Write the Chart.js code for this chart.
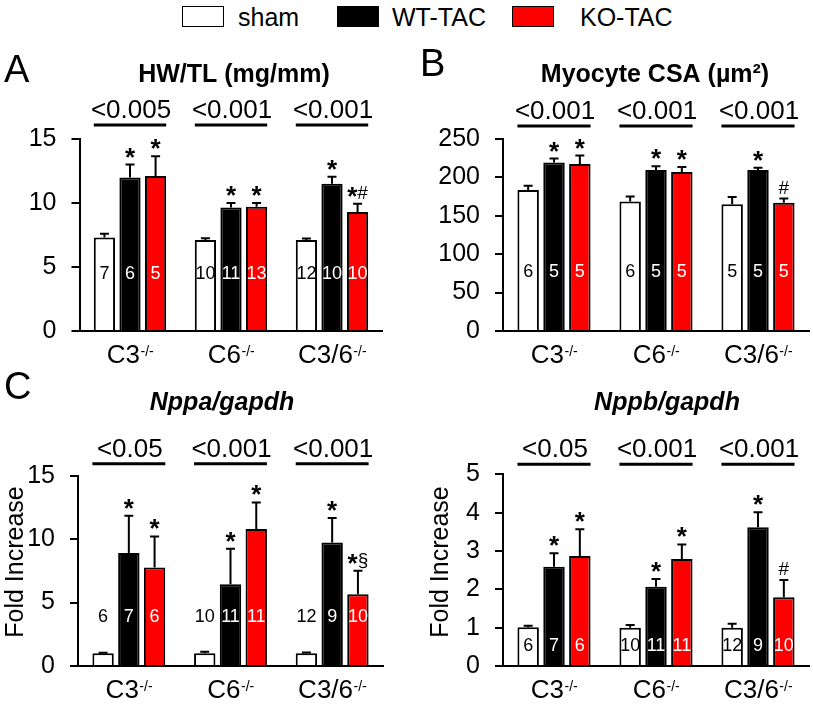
<!DOCTYPE html>
<html>
<head>
<meta charset="utf-8">
<script src="https://cdn.jsdelivr.net/npm/chart.js@4.4.0/dist/chart.umd.min.js"></script>
<style>
body { margin: 0; background: #fff; width: 813px; height: 708px; position: relative; overflow: hidden; font-family: "Liberation Sans", Arial, sans-serif; }
.panel { position: absolute; }
.lg-box { position: absolute; top: 6px; width: 40px; height: 19px; border: 1.5px solid #000; }
.lg-text { position: absolute; top: 2px; font-size: 25px; line-height: 30px; color: #000; }
</style>
</head>
<body>
<div class="lg-box" style="left:182px;background:#fff"></div><span class="lg-text" style="left:238px">sham</span>
<div class="lg-box" style="left:337px;background:#000"></div><span class="lg-text" style="left:392px">WT-TAC</span>
<div class="lg-box" style="left:512px;background:#ff0000"></div><span class="lg-text" style="left:580px">KO-TAC</span>

<canvas id="panelA" class="panel"></canvas>
<canvas id="panelB" class="panel"></canvas>
<canvas id="panelC" class="panel"></canvas>
<canvas id="panelD" class="panel"></canvas>

<script>
const FONT = '"Liberation Sans", Arial, sans-serif'

const groups = ['C3', 'C6', 'C3/6']
const groupSup = '-/-'
const seriesNames = ['sham', 'WT-TAC', 'KO-TAC']
const barColors = ['#ffffff', '#000000', '#ff0000']
const nColors = ['#000000', '#ffffff', '#ffffff']

// A - HW/TL (mg/mm)
const hwtlSham = [7.3, 7.1, 7.1]
const hwtlWT = [12.0, 9.65, 11.5]
const hwtlKO = [12.1, 9.7, 9.3]
const hwtlShamSem = [0.3, 0.15, 0.12]
const hwtlWTSem = [1.0, 0.35, 0.55]
const hwtlKOSem = [1.55, 0.3, 0.65]
const hwtlN = [[7, 10, 12], [6, 11, 10], [5, 13, 10]]
const hwtlMarks = [['', '', ''], ['*', '*', '*'], ['*', '*', '*#']]
const hwtlP = ['<0.005', '<0.001', '<0.001']
const hwtlTicks = [0, 15, 5]

// B - Myocyte CSA
const csaSham = [183.5, 168.5, 165]
const csaWT = [219.5, 209.5, 209.5]
const csaKO = [217.5, 207, 167]
const csaShamSem = [5.5, 6.5, 9.5]
const csaWTSem = [5, 5, 3]
const csaKOSem = [11, 6.5, 5.5]
const csaN = [[6, 6, 5], [5, 5, 5], [5, 5, 5]]
const csaMarks = [['', '', ''], ['*', '*', '*'], ['*', '*', '#']]
const csaP = ['<0.001', '<0.001', '<0.001']
const csaTicks = [0, 250, 50]

// C - Nppa/gapdh
const nppaSham = [1.0, 1.0, 1.0]
const nppaWT = [8.9, 6.45, 9.73]
const nppaKO = [7.76, 10.79, 5.66]
const nppaShamSem = [0.05, 0.13, 0.07]
const nppaWTSem = [2.95, 2.8, 1.93]
const nppaKOSem = [2.45, 2.1, 1.85]
const nppaN = [[6, 10, 12], [7, 11, 9], [6, 11, 10]]
const nppaMarks = [['', '', ''], ['*', '*', '*'], ['*', '*', '*§']]
const nppaP = ['<0.05', '<0.001', '<0.001']
const nppaTicks = [0, 15, 5]

// D - Nppb/gapdh
const nppbSham = [1.01, 1.0, 1.0]
const nppbWT = [2.59, 2.07, 3.62]
const nppbKO = [2.87, 2.79, 1.79]
const nppbShamSem = [0.04, 0.07, 0.1]
const nppbWTSem = [0.35, 0.2, 0.39]
const nppbKOSem = [0.7, 0.38, 0.45]
const nppbN = [[6, 10, 12], [7, 11, 9], [6, 11, 10]]
const nppbMarks = [['', '', ''], ['*', '*', '*'], ['*', '*', '#']]
const nppbP = ['<0.05', '<0.001', '<0.001']
const nppbTicks = [0, 5, 1]

const drawMark = (ctx, mark, x, top) => {
    if (!mark) return
    const parts = mark.split('').map(ch => ch === '*'
        ? { ch, font: 'bold 26px ' + FONT, dy: 1 }
        : { ch, font: '19px ' + FONT, dy: -5 })
    let total = 0
    parts.forEach(pt => {
        ctx.font = pt.font
        pt.w = ctx.measureText(pt.ch).width
        total += pt.w
    })
    let cx = x - total / 2
    ctx.fillStyle = '#000'
    ctx.textAlign = 'left'
    ctx.textBaseline = 'alphabetic'
    parts.forEach(pt => {
        ctx.font = pt.font
        ctx.fillText(pt.ch, cx, top + pt.dy)
        cx += pt.w
    })
}

const makePanel = (p) => {
    const canvas = document.getElementById(p.id)
    canvas.width = p.w
    canvas.height = p.h
    canvas.style.left = p.left + 'px'
    canvas.style.top = p.top + 'px'
    canvas.style.width = p.w + 'px'
    canvas.style.height = p.h + 'px'
    const ox = p.left, oy = p.top

    const annot = {
        id: 'annot',
        afterDatasetsDraw(chart) {
            const ctx = chart.ctx
            const yS = chart.scales.y
            const area = chart.chartArea
            ctx.save()
            chart.data.datasets.forEach((ds, i) => {
                const meta = chart.getDatasetMeta(i)
                meta.data.forEach((bar, j) => {
                    const top = yS.getPixelForValue(ds.data[j] + p.sem[i][j])
                    ctx.strokeStyle = '#000'
                    ctx.lineWidth = 2
                    ctx.beginPath()
                    ctx.moveTo(bar.x, bar.y)
                    ctx.lineTo(bar.x, top)
                    ctx.moveTo(bar.x - 4.5, top)
                    ctx.lineTo(bar.x + 4.5, top)
                    ctx.stroke()
                    drawMark(ctx, p.marks[i][j], bar.x, top)
                    ctx.fillStyle = nColors[i]
                    ctx.font = '18px ' + FONT
                    ctx.textAlign = 'center'
                    ctx.textBaseline = 'middle'
                    ctx.fillText(String(p.n[i][j]), bar.x, area.bottom - p.nOffset)
                })
            })

            // p-value brackets
            const first = chart.getDatasetMeta(0).data
            const last = chart.getDatasetMeta(2).data
            groups.forEach((g, j) => {
                const l = first[j].x - first[j].width / 2
                const r = last[j].x + last[j].width / 2
                const ly = area.top - p.sigGap
                ctx.strokeStyle = '#000'
                ctx.lineWidth = 3
                ctx.beginPath()
                ctx.moveTo(l, ly)
                ctx.lineTo(r, ly)
                ctx.stroke()
                ctx.fillStyle = '#000'
                ctx.font = '26px ' + FONT
                ctx.textAlign = 'center'
                ctx.textBaseline = 'alphabetic'
                ctx.fillText(p.pvals[j], (l + r) / 2 + 1, ly - 7)

                // category label with superscript
                const cx = chart.scales.x.getPixelForValue(j)
                ctx.font = '26px ' + FONT
                const w1 = ctx.measureText(g).width
                ctx.font = '14px ' + FONT
                const w2 = ctx.measureText(groupSup).width
                let sx = cx - (w1 + w2) / 2
                ctx.textAlign = 'left'
                ctx.font = '26px ' + FONT
                ctx.fillText(g, sx, area.bottom + 32)
                ctx.font = '14px ' + FONT
                ctx.fillText(groupSup, sx + w1 + 0.5, area.bottom + 25)
            })

            // title and panel letter
            ctx.fillStyle = '#000'
            ctx.textAlign = 'center'
            ctx.textBaseline = 'alphabetic'
            ctx.font = p.titleFont
            ctx.fillText(p.title, p.titleX - ox, p.titleY - oy)
            if (p.letter) {
                ctx.textAlign = 'left'
                ctx.font = '38px ' + FONT
                ctx.fillText(p.letter, p.letterX - ox, p.letterY - oy)
            }
            if (p.yTitle) {
                ctx.save()
                ctx.translate(p.yTitleX - ox, p.yTitleY - oy)
                ctx.rotate(-Math.PI / 2)
                ctx.textAlign = 'center'
                ctx.font = '25px ' + FONT
                ctx.fillText(p.yTitle, 0, 0)
                ctx.restore()
            }
            ctx.restore()
        }
    }

    return new Chart(canvas, {
        type: 'bar',
        data: {
            labels: groups,
            datasets: p.values.map((vals, i) => ({
                label: seriesNames[i],
                data: vals,
                backgroundColor: barColors[i],
                borderColor: '#000',
                borderWidth: 2,
                categoryPercentage: 0.76,
                barPercentage: 0.83
            }))
        },
        options: {
            responsive: false,
            animation: false,
            devicePixelRatio: 1,
            layout: { padding: { top: p.areaTop - oy, right: ox + p.w - p.areaRight, bottom: 0, left: 0 } },
            plugins: { legend: { display: false }, tooltip: { enabled: false } },
            scales: {
                x: {
                    grid: { display: false },
                    border: { display: true, color: '#000', width: 2 },
                    ticks: { display: false },
                    afterFit: s => { s.height = p.h - (p.areaBottom - oy) }
                },
                y: {
                    min: p.ticks[0],
                    max: p.ticks[1],
                    ticks: { stepSize: p.ticks[2], color: '#000', padding: 15, font: { size: 25, family: FONT } },
                    grid: { display: true, drawOnChartArea: false, drawTicks: true, tickLength: 8, color: '#000', lineWidth: 2 },
                    border: { display: true, color: '#000', width: 2 },
                    afterFit: s => { s.width = p.areaLeft - ox }
                }
            }
        },
        plugins: [annot]
    })
}

makePanel({
    id: 'panelA', left: 0, top: 40, w: 406, h: 330,
    areaLeft: 79.5, areaRight: 382.5, areaTop: 139, areaBottom: 331,
    values: [hwtlSham, hwtlWT, hwtlKO], sem: [hwtlShamSem, hwtlWTSem, hwtlKOSem],
    n: hwtlN, marks: hwtlMarks, pvals: hwtlP, ticks: hwtlTicks,
    nOffset: 57, sigGap: 14,
    title: 'HW/TL (mg/mm)', titleFont: 'bold 25px ' + FONT, titleX: 234, titleY: 82,
    letter: 'A', letterX: 4, letterY: 82
})

makePanel({
    id: 'panelB', left: 406, top: 40, w: 407, h: 330,
    areaLeft: 503, areaRight: 809, areaTop: 139, areaBottom: 331,
    values: [csaSham, csaWT, csaKO], sem: [csaShamSem, csaWTSem, csaKOSem],
    n: csaN, marks: csaMarks, pvals: csaP, ticks: csaTicks,
    nOffset: 59, sigGap: 13,
    title: 'Myocyte CSA (µm²)', titleFont: 'bold 25px ' + FONT, titleX: 655, titleY: 82,
    letter: 'B', letterX: 420, letterY: 76
})

makePanel({
    id: 'panelC', left: 0, top: 370, w: 406, h: 338,
    areaLeft: 78, areaRight: 383, areaTop: 475.7, areaBottom: 666,
    values: [nppaSham, nppaWT, nppaKO], sem: [nppaShamSem, nppaWTSem, nppaKOSem],
    n: nppaN, marks: nppaMarks, pvals: nppaP, ticks: nppaTicks,
    nOffset: 49, sigGap: 12,
    title: 'Nppa/gapdh', titleFont: 'italic bold 25px ' + FONT, titleX: 222, titleY: 410,
    letter: 'C', letterX: 4, letterY: 399,
    yTitle: 'Fold Increase', yTitleX: 23, yTitleY: 562
})

makePanel({
    id: 'panelD', left: 406, top: 370, w: 407, h: 338,
    areaLeft: 503, areaRight: 809, areaTop: 474.3, areaBottom: 666,
    values: [nppbSham, nppbWT, nppbKO], sem: [nppbShamSem, nppbWTSem, nppbKOSem],
    n: nppbN, marks: nppbMarks, pvals: nppbP, ticks: nppbTicks,
    nOffset: 20, sigGap: 10,
    title: 'Nppb/gapdh', titleFont: 'italic bold 25px ' + FONT, titleX: 667, titleY: 410,
    yTitle: 'Fold Increase', yTitleX: 448, yTitleY: 562
})
</script>
</body>
</html>
